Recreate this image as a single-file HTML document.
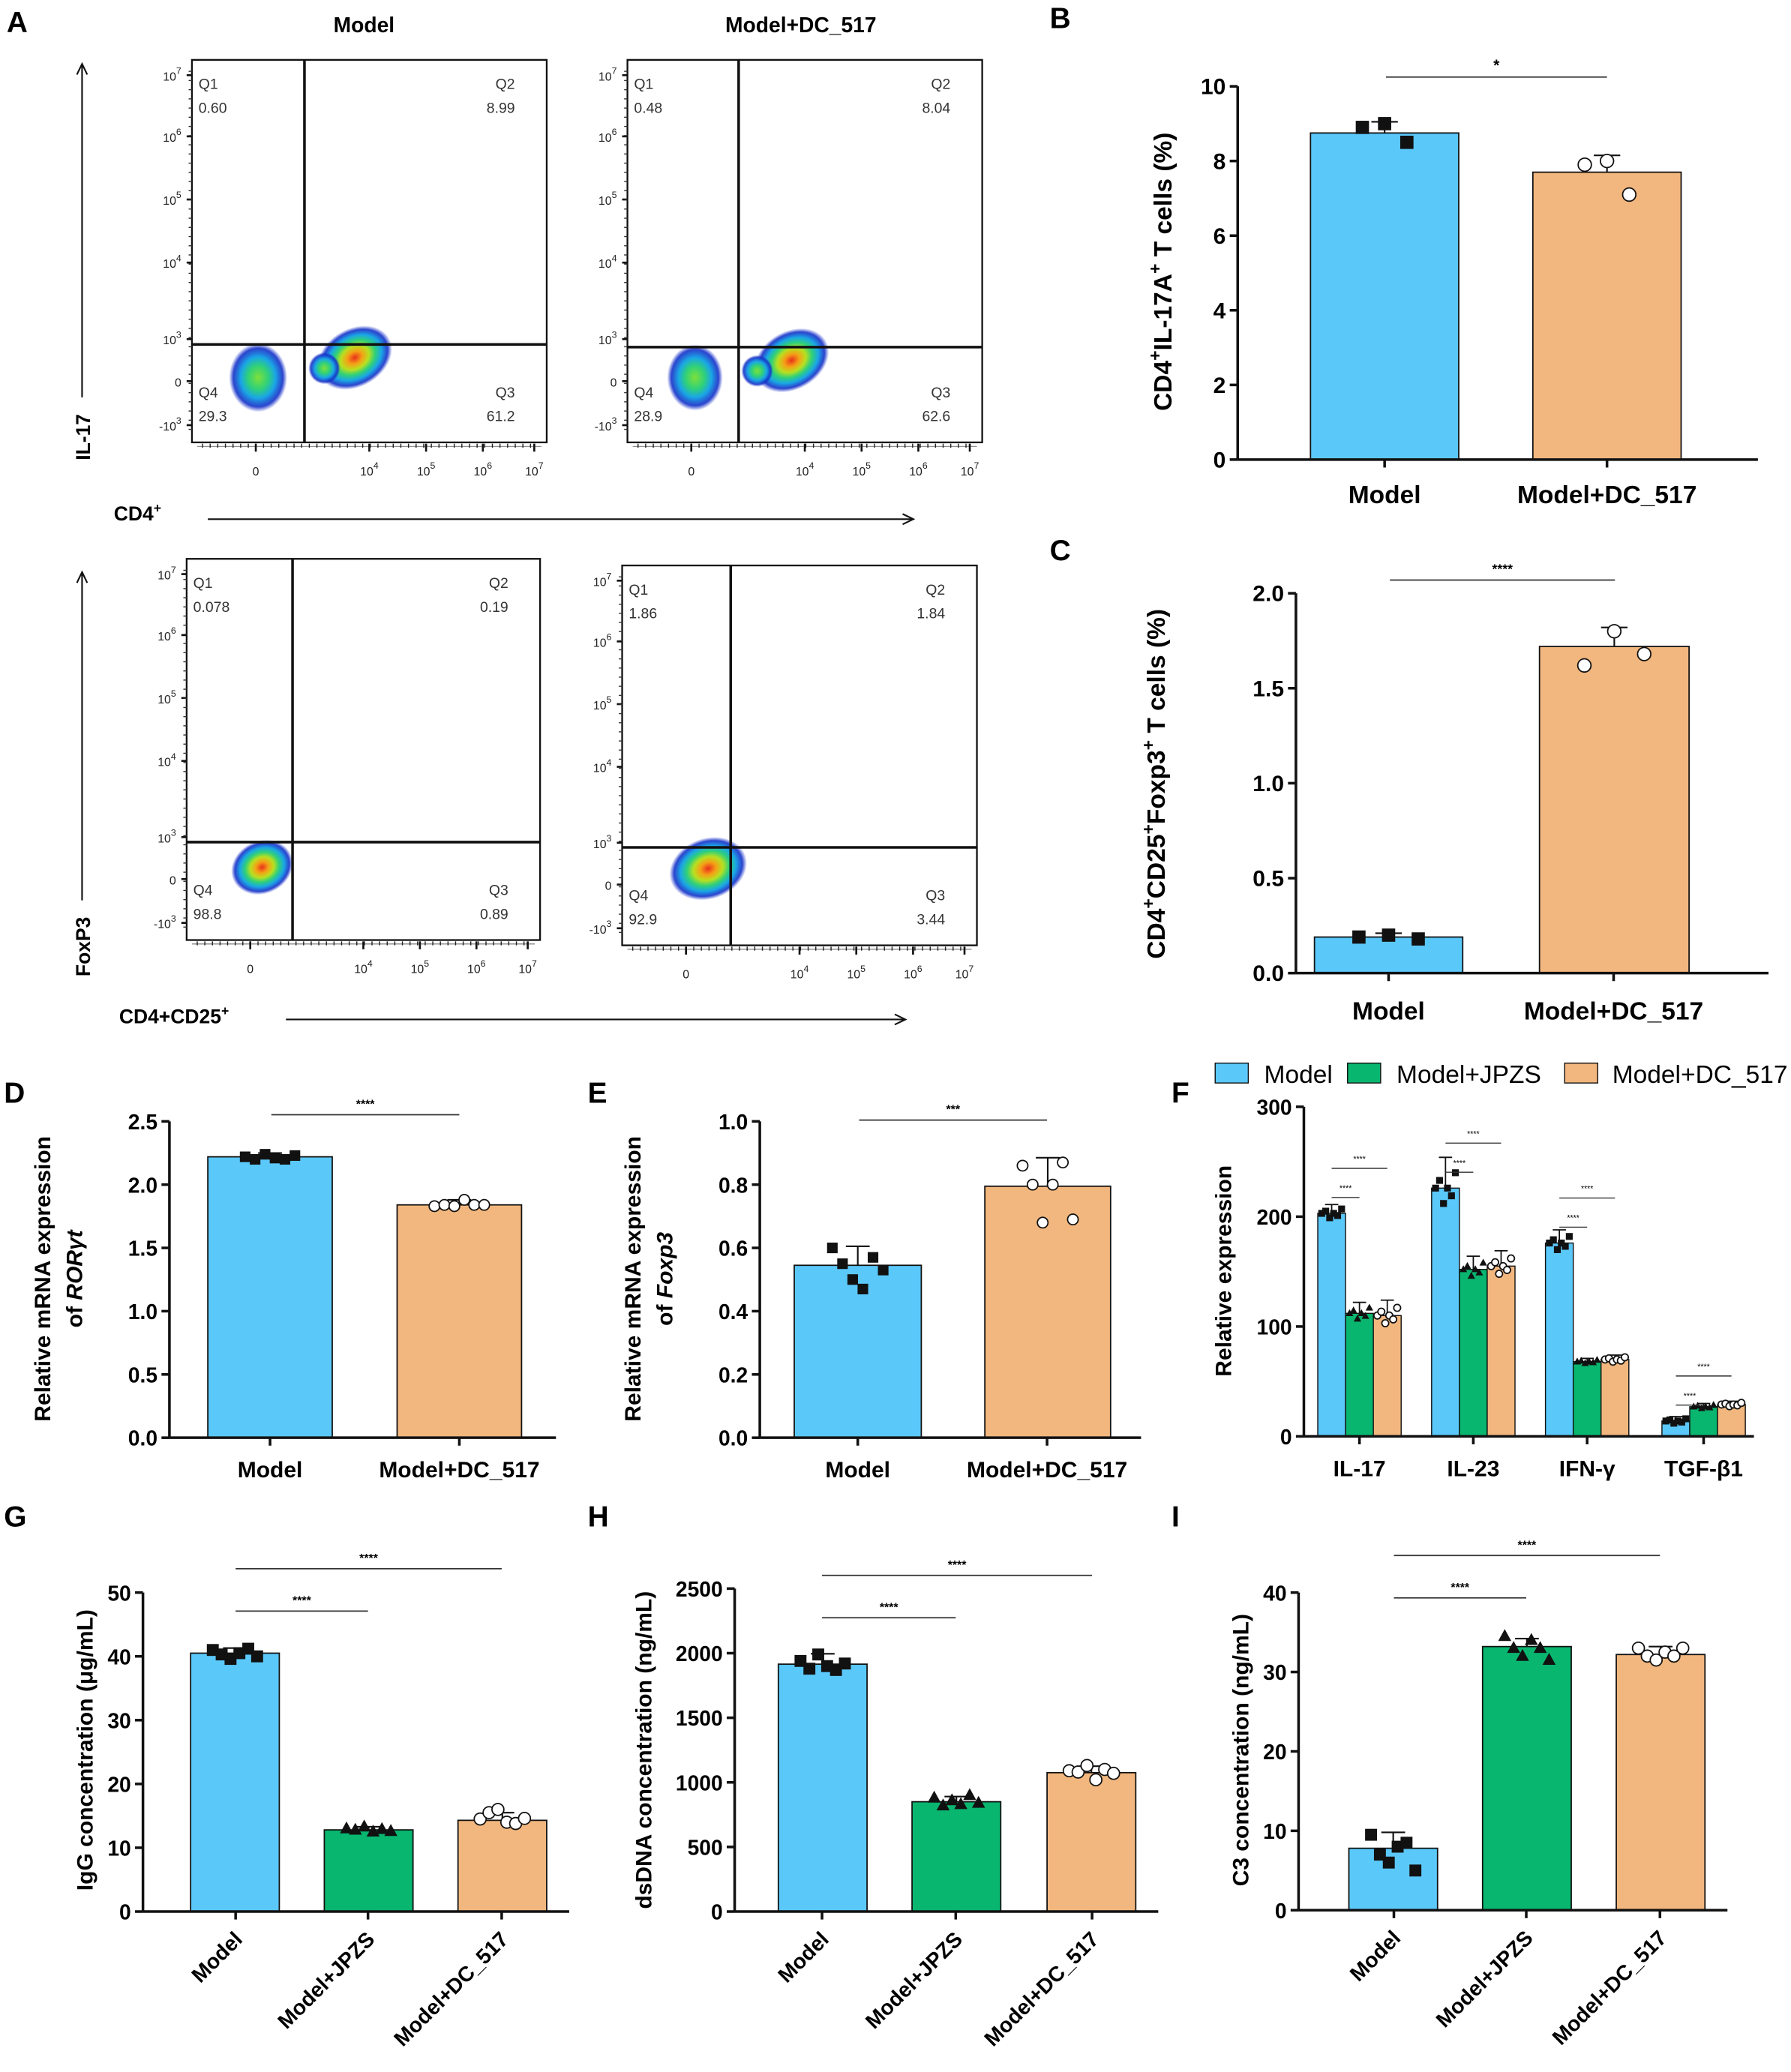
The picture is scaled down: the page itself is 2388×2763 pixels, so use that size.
<!DOCTYPE html>
<html><head><meta charset="utf-8"><style>
html,body{margin:0;padding:0;background:#fff}
svg{display:block;font-family:"Liberation Sans",Arial,sans-serif}
</style></head><body>
<svg id="fig" xmlns="http://www.w3.org/2000/svg" width="2388" height="2763" viewBox="0 0 1353 1565">
<defs>
<radialGradient id="cloud" cx="50%" cy="50%" r="50%">
<stop offset="0" stop-color="#e8301c"/><stop offset="0.2" stop-color="#f5a016"/><stop offset="0.38" stop-color="#b8e020"/><stop offset="0.55" stop-color="#2fd07a"/><stop offset="0.72" stop-color="#1aa6e6"/><stop offset="0.88" stop-color="#1530c8" stop-opacity="0.9"/><stop offset="1" stop-color="#1530c8" stop-opacity="0"/>
</radialGradient>
<radialGradient id="cloud2" cx="50%" cy="50%" r="50%">
<stop offset="0" stop-color="#7ee03a"/><stop offset="0.35" stop-color="#2fd07a"/><stop offset="0.6" stop-color="#1aa6e6"/><stop offset="0.85" stop-color="#1530c8" stop-opacity="0.9"/><stop offset="1" stop-color="#1530c8" stop-opacity="0"/>
</radialGradient>
</defs>
<g id="root"></g>
</svg>
<script>
// ---- data ----
const flowTitles = ["Model","Model+DC_517"];
const flowQ_top1 = ["0.60","8.99","29.3","61.2"];
const flowQ_top2 = ["0.48","8.04","28.9","62.6"];
const flowQ_bot1 = ["0.078","0.19","98.8","0.89"];
const flowQ_bot2 = ["1.86","1.84","92.9","3.44"];

const catsB = ["Model","Model+DC_517"];
const valsB = [8.75, 7.7];
const errB = [0.3, 0.45];
const ptsB = [[8.9,9.0,8.5],[7.9,8.0,7.1]];
const ticksB = [0,2,4,6,8,10];

const valsC = [0.19, 1.72];
const errC = [0.02, 0.1];
const ptsC = [[0.19,0.2,0.18],[1.62,1.8,1.68]];
const ticksC = [0,0.5,1.0,1.5,2.0];

const valsD = [2.22, 1.84];
const errD = [0.03, 0.04];
const ptsD = [[2.22,2.2,2.24,2.21,2.2,2.23],[1.83,1.84,1.83,1.88,1.84,1.84]];
const ticksD = [0,0.5,1.0,1.5,2.0,2.5];

const valsE = [0.545, 0.795];
const errE = [0.06, 0.09];
const ptsE = [[0.6,0.55,0.5,0.47,0.57,0.53],[0.86,0.8,0.68,0.8,0.87,0.69]];
const ticksE = [0,0.2,0.4,0.6,0.8,1.0];

const catsF = ["IL-17","IL-23","IFN-γ","TGF-β1"];
const valsF_model = [203, 226, 176, 14];
const valsF_jpzs = [112, 152, 68, 27];
const valsF_dc = [110, 155, 70, 29];
const errF = [[8,28,12,4],[10,12,3,3],[14,14,4,3]];
const ticksF = [0,100,200,300];

const cats3 = ["Model","Model+JPZS","Model+DC_517"];
const valsG = [40.5, 12.8, 14.3];
const errG = [0.8, 0.5, 1.2];
const ptsG = [[41,40.3,39.6,40.5,41.2,40],[13,12.8,13.3,12.5,12.9,12.6],[14.5,15.5,16,14,13.8,14.6]];
const ticksG = [0,10,20,30,40,50];

const valsH = [1915, 850, 1075];
const errH = [80, 40, 50];
const ptsH = [[1940,1880,1990,1900,1870,1920],[880,820,860,830,900,840],[1090,1080,1130,1020,1100,1070]];
const ticksH = [0,500,1000,1500,2000,2500];

const valsI = [7.8, 33.2, 32.2];
const errI = [2, 1, 1];
const ptsI = [[9.5,7,6,8,8.5,5],[34.5,33,32,34,33,31.5],[33,32,31.5,32.5,32,33]];
const ticksI = [0,10,20,30,40];

const BLUE="#5BC8FA", GREEN="#09B66F", ORANGE="#F2B77E";
const NS="http://www.w3.org/2000/svg";
const root=document.getElementById('root');
function el(tag,attrs,parent,text){const e=document.createElementNS(NS,tag);for(const k in attrs)e.setAttribute(k,attrs[k]);if(text!==undefined)e.textContent=text;(parent||root).appendChild(e);return e;}
function grp(name){const g=el('g',{});return g;}

// ---- panel letters ----
const letters=[["A",5,24],["B",793,21],["C",793,423],["D",3,833],["E",444,833],["F",885,833],["G",3,1153],["H",444,1153],["I",885,1153]];
letters.forEach(l=>{const t=el('text',{x:l[1],y:l[2],'font-size':22,'font-weight':'bold'},root,l[0]);});

// ---- flow plots ----
function sup(g,x,y,base,exp,anchor){const t=el('text',{x:x,y:y,'font-size':9,'text-anchor':anchor||'middle',fill:'#222'},g);
 const a=el('tspan',{},t,base); if(exp!==null){el('tspan',{dy:-5,'font-size':7},t,exp);} return t;}
function flowPlot(name,x0,y0,x1,y1,vx,hy,q,clouds){
 const g=grp(name);
 el('rect',{x:x0,y:y0,width:x1-x0,height:y1-y0,fill:'none',stroke:'#111','stroke-width':1.3},g);
 clouds.forEach(c=>{const e=el('ellipse',{cx:c[0],cy:c[1],rx:c[2],ry:c[3],fill:'url(#'+c[4]+')',transform:'rotate('+c[5]+' '+c[0]+' '+c[1]+')'},g);});
 el('line',{x1:vx,y1:y0,x2:vx,y2:y1,stroke:'#111','stroke-width':2},g);
 el('line',{x1:x0,y1:hy,x2:x1,y2:hy,stroke:'#111','stroke-width':2},g);
 const fs=11;
 el('text',{x:x0+5,y:y0+22,'font-size':fs,fill:'#333'},g,'Q1');el('text',{x:x0+5,y:y0+40,'font-size':fs,fill:'#333'},g,q[0]);
 el('text',{x:x1-24,y:y0+22,'font-size':fs,fill:'#333','text-anchor':'end'},g,'Q2');el('text',{x:x1-24,y:y0+40,'font-size':fs,fill:'#333','text-anchor':'end'},g,q[1]);
 el('text',{x:x0+5,y:y1-34,'font-size':fs,fill:'#333'},g,'Q4');el('text',{x:x0+5,y:y1-16,'font-size':fs,fill:'#333'},g,q[2]);
 el('text',{x:x1-24,y:y1-34,'font-size':fs,fill:'#333','text-anchor':'end'},g,'Q3');el('text',{x:x1-24,y:y1-16,'font-size':fs,fill:'#333','text-anchor':'end'},g,q[3]);
 // y ticks
 const h=y1-y0;const yt=[[0.04,'10','7'],[0.2,'10','6'],[0.365,'10','5'],[0.53,'10','4'],[0.73,'10','3'],[0.84,'0',null],[0.955,'-10','3']];
 yt.forEach(t=>{const yy=y0+t[0]*h;el('line',{x1:x0-4,y1:yy,x2:x0,y2:yy,stroke:'#111','stroke-width':1.5},g);sup(g,x0-8,yy+4,t[1],t[2],'end');});
 for(let i=0;i<40;i++){const yy=y0+h*(0.03+i*0.024);el('line',{x1:x0-2.5,y1:yy,x2:x0,y2:yy,stroke:'#333','stroke-width':0.8},g);}
 const w=x1-x0;const xt=[[0.18,'0',null],[0.5,'10','4'],[0.66,'10','5'],[0.82,'10','6'],[0.965,'10','7']];
 el('line',{x1:x0+4,y1:y1+3,x2:x1-4,y2:y1+3,stroke:'#222','stroke-width':0.4},g);
 for(let i=0;i<44;i++){const xx=x0+8+w*(i*0.0215);el('line',{x1:xx,y1:y1+1,x2:xx,y2:y1+4,stroke:'#222','stroke-width':0.8},g);}
 xt.forEach(t=>{const xx=x0+t[0]*w;el('line',{x1:xx,y1:y1+1,x2:xx,y2:y1+7,stroke:'#111','stroke-width':1.5},g);sup(g,xx,y1+25,t[1],t[2]);});
}
flowPlot('flow-il17-model',145,45,413,334,230,260,flowQ_top1,[[195,285,22,26,'cloud2',0],[268,270,30,22,'cloud',-30],[245,278,12,12,'cloud2',0]]);
flowPlot('flow-il17-dc517',474,45,742,334,558,262,flowQ_top2,[[525,285,21,25,'cloud2',0],[598,272,30,22,'cloud',-30],[572,280,12,12,'cloud2',0]]);
flowPlot('flow-foxp3-model',141,422,408,710,221,636,flowQ_bot1,[[198,655,24,20,'cloud',-25]]);
flowPlot('flow-foxp3-dc517',470,427,738,714,552,640,flowQ_bot2,[[535,656,30,23,'cloud',-20]]);
[[275,24,flowTitles[0]],[605,24,flowTitles[1]]].forEach(t=>{const e=el('text',{x:t[0],y:t[1],'font-size':16,'font-weight':'bold','text-anchor':'middle'},root,t[2]);});
function arrow(name,x1,y1,x2,y2){const g=grp(name);el('line',{x1:x1,y1:y1,x2:x2,y2:y2,stroke:'#111','stroke-width':1.2},g);
 const ang=Math.atan2(y2-y1,x2-x1);const a=9;
 el('polyline',{points:(x2-a*Math.cos(ang-0.45))+','+(y2-a*Math.sin(ang-0.45))+' '+x2+','+y2+' '+(x2-a*Math.cos(ang+0.45))+','+(y2-a*Math.sin(ang+0.45)),fill:'none',stroke:'#111','stroke-width':1.2},g);}
arrow('il17-axis-arrow',62,300,62,48);arrow('cd4-axis-arrow',157,392,690,392);
arrow('foxp3-axis-arrow',62,680,62,432);arrow('cd4cd25-axis-arrow',216,770,684,770);
function lab(name,x,y,txt,rot,fs){const t=el('text',{x:x,y:y,'font-size':fs||15,'font-weight':'bold','text-anchor':rot?'middle':'start',transform:rot?'rotate(-90 '+x+' '+y+')':''},root);t.innerHTML=txt;return t;}
lab('il17-label',68,330,'IL-17',true);lab('cd4-label',86,393,'CD4<tspan dy="-6" font-size="10">+</tspan>');
lab('foxp3-label',68,715,'FoxP3',true);lab('cd4cd25-label',90,773,'CD4+CD25<tspan dy="-6" font-size="10">+</tspan>');

// ---- bar panels ----
function marker(g,type,x,y,s){
 if(type==='sq')el('rect',{x:x-s,y:y-s,width:2*s,height:2*s,fill:'#111'},g);
 else if(type==='tri')el('polygon',{points:x+','+(y-s*1.2)+' '+(x-s*1.1)+','+(y+s*0.8)+' '+(x+s*1.1)+','+(y+s*0.8),fill:'#111'},g);
 else el('circle',{cx:x,cy:y,r:s,fill:'#fff',stroke:'#111','stroke-width':1},g);
}
function barPanel(o){
 const g=grp(o.name);
 const ys=v=>o.y0-(v/o.max)*(o.y0-o.y1);
 // bars
 o.bars.forEach((b,i)=>{
  const bx=o.bx[i];const top=ys(b.val);
  const r=el('rect',{x:bx[0],y:top,width:bx[1]-bx[0],height:o.y0-top,fill:b.color,stroke:'#111','stroke-width':1},g);
  
  const cx=(bx[0]+bx[1])/2;const et=ys(b.val+b.err);
  el('line',{x1:cx,y1:top,x2:cx,y2:et,stroke:'#111','stroke-width':1.2},g);
  el('line',{x1:cx-o.capw,y1:et,x2:cx+o.capw,y2:et,stroke:'#111','stroke-width':1.2},g);
  const n=b.pts.length;const sp=o.ptSpread*(bx[1]-bx[0]);
  b.pts.forEach((p,j)=>{const px=cx+(n>1?(j/(n-1)-0.5)*sp:0);marker(g,b.mk,px,ys(p),o.ms);});
 });
 // axes
 el('line',{x1:o.ax,y1:ys(o.max),x2:o.ax,y2:o.y0,stroke:'#111','stroke-width':2},g);
 el('line',{x1:o.ax,y1:o.y0,x2:o.xEnd,y2:o.y0,stroke:'#111','stroke-width':2},g);
 o.ticks.forEach(t=>{const yy=ys(t);el('line',{x1:o.ax-6,y1:yy,x2:o.ax,y2:yy,stroke:'#111','stroke-width':2},g);
  el('text',{x:o.ax-9,y:yy+6,'font-size':o.tfs,'font-weight':'bold','text-anchor':'end'},g,o.tfmt?o.tfmt(t):String(t));});
 o.cx.forEach(c=>el('line',{x1:c,y1:o.y0,x2:c,y2:o.y0+6,stroke:'#111','stroke-width':2},g));
 // category labels
 o.cats.forEach((c,i)=>{const x=o.cx[i];
  if(o.rot){el('text',{x:x+6,y:o.y0+22,'font-size':o.cfs,'font-weight':'bold','text-anchor':'end',transform:'rotate(-45 '+(x+6)+' '+(o.y0+22)+')'},g,c);}
  else el('text',{x:x,y:o.y0+o.cdy,'font-size':o.cfs,'font-weight':'bold','text-anchor':'middle'},g,c);});
 // significance
 (o.sig||[]).forEach(s=>{el('line',{x1:s[0],y1:s[2],x2:s[1],y2:s[2],stroke:'#333','stroke-width':1},g);
  el('text',{x:(s[0]+s[1])/2,y:s[2]-5,'font-size':s[4]||10,'font-weight':'bold','text-anchor':'middle'},g,s[3]);});
 // y title
 const t=el('text',{x:o.tx,y:o.ty,'font-size':o.yfs,'font-weight':'bold','text-anchor':'middle',transform:'rotate(-90 '+o.tx+' '+o.ty+')'},g);t.innerHTML=o.title;
 
}
const f1=t=>t.toFixed(1);
barPanel({name:'panel-b',ax:935,y0:347,y1:65,max:10,xEnd:1328,ticks:ticksB,tfs:17,cats:catsB,cx:[1046,1214],bx:[[990,1102],[1158,1270]],cdy:33,cfs:19,capw:10,ms:5,ptSpread:0.3,
 bars:[{val:valsB[0],err:errB[0],pts:ptsB[0],color:BLUE,mk:'sq'},{val:valsB[1],err:errB[1],pts:ptsB[1],color:ORANGE,mk:'ci'}],
 sig:[[1047,1214,58,'*',12]],tx:885,ty:205,yfs:19,title:'CD4<tspan dy="-8" font-size="13">+</tspan><tspan dy="8">IL-17A</tspan><tspan dy="-8" font-size="13">+</tspan><tspan dy="8"> T cells (%)</tspan>'});
barPanel({name:'panel-c',ax:979,y0:735,y1:448,max:2.0,xEnd:1336,ticks:ticksC,tfs:17,tfmt:f1,cats:catsB,cx:[1049,1219],bx:[[993,1105],[1163,1276]],cdy:35,cfs:19,capw:10,ms:5,ptSpread:0.4,
 bars:[{val:valsC[0],err:errC[0],pts:ptsC[0],color:BLUE,mk:'sq'},{val:valsC[1],err:errC[1],pts:ptsC[1],color:ORANGE,mk:'ci'}],
 sig:[[1050,1220,438,'****',10]],tx:880,ty:592,yfs:19,title:'CD4<tspan dy="-8" font-size="13">+</tspan><tspan dy="8">CD25</tspan><tspan dy="-8" font-size="13">+</tspan><tspan dy="8">Foxp3</tspan><tspan dy="-8" font-size="13">+</tspan><tspan dy="8"> T cells (%)</tspan>'});
barPanel({name:'panel-d',ax:128,y0:1086,y1:847,max:2.5,xEnd:420,ticks:ticksD,tfs:16,tfmt:f1,cats:catsB,cx:[204,347],bx:[[157,251],[300,394]],cdy:30,cfs:17,capw:9,ms:4,ptSpread:0.4,
 bars:[{val:valsD[0],err:errD[0],pts:ptsD[0],color:BLUE,mk:'sq'},{val:valsD[1],err:errD[1],pts:ptsD[1],color:ORANGE,mk:'ci'}],
 sig:[[205,347,842,'****',9]],tx:38,ty:966,yfs:17,title:'Relative mRNA expression'});
lab('panel-d-y-title-2',62,966,'of <tspan font-style="italic">RORγt</tspan>',true,17);
barPanel({name:'panel-e',ax:574,y0:1086,y1:847,max:1.0,xEnd:862,ticks:ticksE,tfs:16,tfmt:f1,cats:catsB,cx:[648,791],bx:[[600,696],[744,839]],cdy:30,cfs:17,capw:9,ms:4,ptSpread:0.4,
 bars:[{val:valsE[0],err:errE[0],pts:ptsE[0],color:BLUE,mk:'sq'},{val:valsE[1],err:errE[1],pts:ptsE[1],color:ORANGE,mk:'ci'}],
 sig:[[649,791,846,'***',9]],tx:484,ty:966,yfs:17,title:'Relative mRNA expression'});
lab('panel-e-y-title-2',508,966,'of <tspan font-style="italic">Foxp3</tspan>',true,17);
barPanel({name:'panel-g',ax:108,y0:1444,y1:1203,max:50,xEnd:430,ticks:ticksG,tfs:16,cats:cats3,cx:[178,278,379],bx:[[144,211],[245,312],[346,413]],rot:true,cfs:16,capw:9,ms:4.5,ptSpread:0.5,
 bars:[{val:valsG[0],err:errG[0],pts:ptsG[0],color:BLUE,mk:'sq'},{val:valsG[1],err:errG[1],pts:ptsG[1],color:GREEN,mk:'tri'},{val:valsG[2],err:errG[2],pts:ptsG[2],color:ORANGE,mk:'ci'}],
 sig:[[178,278,1217,'****',9],[178,379,1185,'****',9]],tx:70,ty:1322,yfs:17,title:'IgG concentration (μg/mL)'});
barPanel({name:'panel-h',ax:555,y0:1444,y1:1200,max:2500,xEnd:875,ticks:ticksH,tfs:16,cats:cats3,cx:[621,722,825],bx:[[588,655],[689,756],[791,858]],rot:true,cfs:16,capw:9,ms:4.5,ptSpread:0.5,
 bars:[{val:valsH[0],err:errH[0],pts:ptsH[0],color:BLUE,mk:'sq'},{val:valsH[1],err:errH[1],pts:ptsH[1],color:GREEN,mk:'tri'},{val:valsH[2],err:errH[2],pts:ptsH[2],color:ORANGE,mk:'ci'}],
 sig:[[621,722,1222,'****',9],[621,825,1190,'****',9]],tx:492,ty:1322,yfs:17,title:'dsDNA concentration (ng/mL)'});
barPanel({name:'panel-i',ax:981,y0:1443,y1:1203,max:40,xEnd:1305,ticks:ticksI,tfs:16,cats:cats3,cx:[1053,1153,1254],bx:[[1019,1086],[1120,1187],[1221,1288]],rot:true,cfs:16,capw:9,ms:4.5,ptSpread:0.5,
 bars:[{val:valsI[0],err:errI[0],pts:ptsI[0],color:BLUE,mk:'sq'},{val:valsI[1],err:errI[1],pts:ptsI[1],color:GREEN,mk:'tri'},{val:valsI[2],err:errI[2],pts:ptsI[2],color:ORANGE,mk:'ci'}],
 sig:[[1053,1153,1207,'****',9],[1053,1254,1175,'****',9]],tx:943,ty:1322,yfs:17,title:'C3 concentration (ng/mL)'});

// ---- panel F grouped ----
(function(){
 const g=grp('panel-f');
 const ax=985,y0=1085,y1=836,max=300,xEnd=1325;
 const ys=v=>y0-(v/max)*(y0-y1);
 const gc=[1027,1113,1199,1287];const bw=21;
 const series=[[valsF_model,BLUE,'sq'],[valsF_jpzs,GREEN,'tri'],[valsF_dc,ORANGE,'ci']];
 catsF.forEach((c,i)=>{
  series.forEach((s,k)=>{
   const x0=gc[i]-1.5*bw+k*bw;const v=s[0][i];const top=ys(v);
   const r=el('rect',{x:x0,y:top,width:bw,height:y0-top,fill:s[1],stroke:'#111','stroke-width':0.8},g);
   
   
   const cx=x0+bw/2;const et=ys(v+errF[k][i]);
   el('line',{x1:cx,y1:top,x2:cx,y2:et,stroke:'#111','stroke-width':1},g);
   el('line',{x1:cx-5,y1:et,x2:cx+5,y2:et,stroke:'#111','stroke-width':1},g);
   for(let j=0;j<6;j++){const px=x0+3+j*(bw-6)/5;const dv=(j%2?1:-1)*errF[k][i]*0.5*((j%3)/2);marker(g,s[2],px,ys(v+dv),2.6);}
  });
  el('line',{x1:gc[i],y1:y0,x2:gc[i],y2:y0+6,stroke:'#111','stroke-width':2},g);
  el('text',{x:gc[i],y:y0+30,'font-size':17,'font-weight':'bold','text-anchor':'middle'},g,c);
  const m=ys(series[0][0][i])-12;const x0=gc[i]-1.5*bw+bw/2;
  el('line',{x1:x0,y1:m,x2:x0+bw,y2:m,stroke:'#333','stroke-width':0.8},g);
  el('text',{x:x0+bw/2,y:m-5,'font-size':6,'text-anchor':'middle'},g,'****');
  el('line',{x1:x0,y1:m-22,x2:x0+2*bw,y2:m-22,stroke:'#333','stroke-width':0.8},g);
  el('text',{x:x0+bw,y:m-27,'font-size':6,'text-anchor':'middle'},g,'****');
 });
 el('line',{x1:ax,y1:y1,x2:ax,y2:y0,stroke:'#111','stroke-width':2},g);
 el('line',{x1:ax,y1:y0,x2:xEnd,y2:y0,stroke:'#111','stroke-width':2},g);
 ticksF.forEach(t=>{const yy=ys(t);el('line',{x1:ax-6,y1:yy,x2:ax,y2:yy,stroke:'#111','stroke-width':2},g);
  el('text',{x:ax-9,y:yy+6,'font-size':16,'font-weight':'bold','text-anchor':'end'},g,String(t));});
 el('text',{x:930,y:960,'font-size':17,'font-weight':'bold','text-anchor':'middle',transform:'rotate(-90 930 960)'},g,'Relative expression');
 const leg=[[918,'Model',BLUE,955],[1018,'Model+JPZS',GREEN,1055],[1182,'Model+DC_517',ORANGE,1218]];
 leg.forEach(l=>{const lg=el('g',{},g);
  el('rect',{x:l[0],y:803,width:25,height:15,fill:l[2],stroke:'#111','stroke-width':0.8},lg);
  el('text',{x:l[3],y:818,'font-size':19},lg,l[1]);});
})();
</script>
</body></html>
